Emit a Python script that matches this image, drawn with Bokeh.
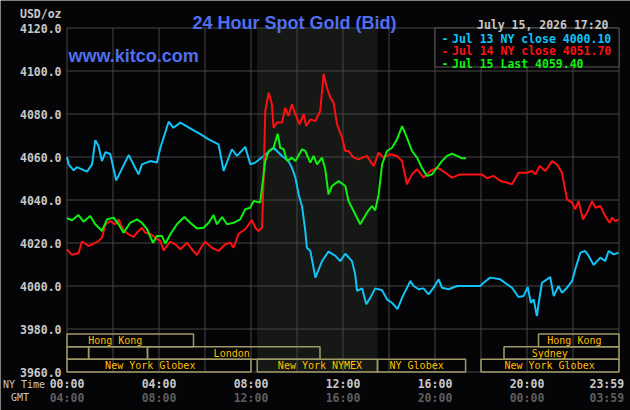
from bokeh.plotting import figure
from bokeh.models import Range1d, ColumnDataSource
from bokeh.core.properties import value
from bokeh.embed import file_html
from bokeh.resources import INLINE

# ---------------- data ----------------
jul13_hours = [0.00, 0.07, 0.29, 0.43, 0.87, 1.09, 1.23, 1.37, 1.52, 1.67, 1.88, 2.14, 2.68, 3.11, 3.26,
               3.62, 3.91, 4.06, 4.42, 4.63, 4.93, 5.43, 5.80, 6.16, 6.59, 6.81, 7.17, 7.39, 7.75, 7.97,
               8.19, 8.55, 8.98, 9.35, 9.63, 9.78, 9.93, 10.07, 10.22, 10.36, 10.43, 10.58, 10.80, 11.09,
               11.37, 11.67, 11.88, 12.10, 12.39, 12.53, 12.61, 12.83, 13.01, 13.19, 13.40, 13.70, 13.91,
               14.13, 14.37, 14.57, 14.93, 15.07, 15.29, 15.50, 15.72, 15.94, 16.16, 16.30, 16.59, 16.96,
               17.97, 18.11, 18.40, 18.84, 19.13, 19.35, 19.63, 19.85, 20.03, 20.17, 20.29, 20.43, 20.50,
               20.65, 20.87, 21.01, 21.16, 21.37, 21.52, 21.74, 21.96, 22.10, 22.32, 22.53, 22.68, 22.90,
               23.19, 23.40, 23.55, 23.77, 23.98]
jul13_price = [4060.0, 4056.6, 4053.8, 4055.3, 4053.2, 4056.6, 4067.8, 4065.1, 4058.1, 4062.3, 4061.4,
               4049.1, 4060.9, 4051.9, 4056.6, 4058.1, 4057.4, 4064.3, 4076.4, 4073.6, 4076.0, 4072.9,
               4070.6, 4068.2, 4065.9, 4053.5, 4063.6, 4060.5, 4064.7, 4056.6, 4057.4, 4060.5, 4064.3,
               4060.5, 4058.1, 4055.0, 4050.4, 4042.6, 4037.0, 4025.6, 4017.8, 4016.3, 4003.9, 4011.6,
               4016.0, 4014.0, 4011.6, 4015.0, 4011.6, 4005.4, 3997.7, 3998.9, 3991.5, 3994.6, 3998.9,
               3998.0, 3993.8, 3992.2, 3989.2, 3994.6, 4002.3, 4000.0, 3998.5, 3998.9, 3996.1, 3999.2,
               4003.1, 3999.2, 3998.5, 4000.0, 4000.0, 4001.5, 4003.9, 4003.1, 4000.8, 3999.2, 3994.9,
               3995.3, 3999.5, 3992.2, 3993.8, 3986.0, 3991.5, 4001.5, 4003.1, 4004.2, 3995.3, 4000.0,
               3996.9, 3999.2, 4002.3, 4007.8, 4015.5, 4016.3, 4014.0, 4009.8, 4013.2, 4011.6, 4016.3,
               4014.7, 4015.5]

jul14_hours = [0.00, 0.22, 0.50, 0.65, 0.94, 1.16, 1.37, 1.52, 1.67, 1.88, 2.10, 2.24, 2.46, 2.68, 2.90,
               3.04, 3.26, 3.40, 3.62, 3.84, 4.06, 4.20, 4.49, 4.71, 4.93, 5.22, 5.43, 5.65, 5.87, 6.01,
               6.30, 6.59, 6.88, 7.10, 7.24, 7.46, 7.75, 8.04, 8.19, 8.32, 8.48, 8.55, 8.62, 8.77, 8.91,
               8.98, 9.13, 9.35, 9.49, 9.63, 9.78, 9.93, 10.11, 10.29, 10.40, 10.58, 10.80, 11.01, 11.16,
               11.30, 11.45, 11.59, 11.74, 11.96, 12.10, 12.24, 12.46, 12.68, 13.04, 13.33, 13.55, 13.77,
               14.06, 14.35, 14.57, 14.78, 15.00, 15.22, 15.50, 15.80, 16.09, 16.23, 16.45, 16.74, 17.10,
               18.04, 18.26, 18.55, 18.84, 19.13, 19.35, 19.63, 20.00, 20.22, 20.36, 20.55, 20.80, 21.09,
               21.30, 21.52, 21.74, 21.96, 22.10, 22.24, 22.43, 22.61, 22.83, 22.97, 23.19, 23.40, 23.59,
               23.70, 23.84, 23.98]
jul14_price = [4017.0, 4014.5, 4015.2, 4020.7, 4018.6, 4019.7, 4020.9, 4022.5, 4028.7, 4030.2, 4028.7,
               4031.0, 4025.9, 4024.0, 4022.8, 4024.8, 4027.1, 4024.8, 4024.3, 4022.5, 4020.9, 4016.6,
               4020.6, 4019.4, 4017.1, 4020.1, 4017.1, 4014.4, 4018.6, 4020.6, 4017.8, 4016.3, 4019.4,
               4020.1, 4017.8, 4024.3, 4026.4, 4030.6, 4027.1, 4025.6, 4027.1, 4050.4, 4081.4, 4089.9,
               4084.5, 4073.6, 4076.0, 4076.0, 4082.9, 4079.1, 4084.5, 4079.9, 4075.2, 4079.9, 4074.4,
               4077.5, 4076.7, 4081.4, 4098.7, 4092.2, 4087.6, 4085.3, 4075.2, 4069.0, 4062.8, 4062.8,
               4059.7, 4058.9, 4060.5, 4055.8, 4062.0, 4059.7, 4061.3, 4060.5, 4058.1, 4047.3, 4051.9,
               4054.3, 4050.4, 4053.5, 4055.0, 4054.3, 4052.7, 4050.4, 4051.9, 4051.9, 4050.1, 4051.2,
               4048.8, 4048.1, 4047.3, 4052.7, 4052.7, 4053.5, 4051.9, 4055.8, 4053.5, 4058.1, 4056.6,
               4052.7, 4040.3, 4038.8, 4035.7, 4039.5, 4031.0, 4034.1, 4039.5, 4036.4, 4037.2, 4032.6,
               4029.4, 4031.8, 4030.2, 4031.0]

jul15_hours = [0.00, 0.22, 0.50, 0.72, 1.01, 1.23, 1.52, 1.74, 2.03, 2.24, 2.46, 2.75, 3.04, 3.26, 3.48,
               3.74, 3.91, 4.13, 4.27, 4.49, 4.78, 5.10, 5.36, 5.65, 5.94, 6.16, 6.37, 6.52, 6.74, 6.96,
               7.24, 7.53, 7.75, 7.97, 8.11, 8.40, 8.62, 8.77, 8.98, 9.16, 9.27, 9.42, 9.57, 9.78, 9.93,
               10.22, 10.36, 10.58, 10.72, 10.87, 11.09, 11.23, 11.37, 11.52, 11.81, 12.10, 12.24, 12.46,
               12.75, 13.04, 13.26, 13.40, 13.55, 13.70, 13.91, 14.13, 14.35, 14.57, 14.78, 15.00, 15.22,
               15.43, 15.65, 15.87, 16.09, 16.30, 16.52, 16.74, 16.96, 17.17, 17.35]
jul15_price = [4031.5, 4030.6, 4033.0, 4029.9, 4032.6, 4028.7, 4025.6, 4031.0, 4031.8, 4028.7, 4024.8,
               4029.4, 4031.0, 4029.4, 4026.4, 4020.1, 4023.3, 4023.3, 4019.7, 4024.0, 4028.7, 4032.1,
               4029.4, 4026.8, 4027.1, 4029.4, 4033.0, 4028.7, 4032.1, 4028.7, 4029.4, 4031.0, 4035.7,
               4036.4, 4039.5, 4038.8, 4058.1, 4062.8, 4064.3, 4070.8, 4064.3, 4063.6, 4058.1, 4059.7,
               4058.1, 4063.6, 4062.8, 4057.4, 4060.5, 4056.6, 4059.7, 4054.3, 4042.6, 4046.5, 4048.8,
               4046.5, 4039.5, 4034.9, 4028.7, 4034.1, 4037.2, 4035.2, 4042.6, 4056.6, 4062.8, 4064.3,
               4068.2, 4074.4, 4069.0, 4062.8, 4059.7, 4055.0, 4051.2, 4051.9, 4055.0, 4058.1, 4060.5,
               4061.5, 4060.5, 4059.4, 4059.4]

series_dates = ["Jul 13", "Jul 14", "Jul 15"]
series_kinds = ["NY close", "NY close", "Last"]
series_values = ["4000.10", "4051.70", "4059.40"]

# trading sessions (row 0 = top row)
session_row = [0, 0, 1, 1, 1, 1, 2, 2, 2, 2]
session_start = [0.0, 20.5, 0.0, 0.94, 3.5, 19.0, 0.0, 8.27, 13.5, 18.0]
session_end = [5.5, 24.0, 0.94, 3.5, 11.0, 24.0, 8.0, 13.5, 17.33, 24.0]
session_name = ["Hong Kong", "Hong Kong", "", "", "London", "Sydney",
                "New York Globex", "New York NYMEX", "NY Globex", "New York Globex"]
session_label_hour = [2.1, 22.06, 0.5, 2.2, 7.16, 20.99, 3.62, 11.0, 15.2, 20.98]
nymex_start, nymex_end = 8.27, 13.5

y_ticks = [3960, 3980, 4000, 4020, 4040, 4060, 4080, 4100, 4120]
ny_tick_hours = [0, 4, 8, 12, 16, 20, 23.47]
ny_tick_labels = ["00:00", "04:00", "08:00", "12:00", "16:00", "20:00", "23:59"]
gmt_tick_labels = ["04:00", "08:00", "12:00", "16:00", "20:00", "00:00", "03:59"]
grid_hours = [0, 2, 4, 6, 8, 10, 12, 14, 16, 18, 20, 22, 24]
chart_title = "24 Hour Spot Gold (Bid)"
site_name = "www.kitco.com"
stamp = "July 15, 2026 17:20"
unit_label = "USD/oz"

# ---------------- layout / style ----------------
W, H = 630, 410
X0_PX, PX_PER_H = 66.5, 23.0        # canvas x of 00:00, pixels per hour
Y0_PX, PX_PER_USD = 371.5, 2.15     # canvas y of 3960, pixels per USD
Y_BASE = 3960

def hx(px):   # canvas x -> hours
    return (px - X0_PX) / PX_PER_H

def vy(py):   # canvas y -> USD
    return Y_BASE + (Y0_PX - py) / PX_PER_USD

BG = "#050507"
GRID = "#464646"
LIGHT = "#C8C8C8"
DARK = "#5E5E5E"
BLUE = "#4F6FEF"
COLORS = ["#10C4F8", "#FF1010", "#10F010"]
SESS_TXT = "#FFBF00"
SESS_LINE = "#9E9A68"
MONO = "DejaVu Sans Mono"
SANS = "Liberation Sans"

p = figure(width=W, height=H, output_backend="svg", toolbar_location=None,
           x_range=Range1d(hx(0), hx(W)), y_range=Range1d(vy(H), vy(0)),
           x_axis_type=None, y_axis_type=None, title=None, min_border=0,
           background_fill_color=BG, border_fill_color=BG)
p.outline_line_color = None

x_lo, x_hi = grid_hours[0], grid_hours[-1]
y_lo, y_hi = y_ticks[0], y_ticks[-1]

# NYMEX shading
p.quad(left=[nymex_start], right=[nymex_end], bottom=[y_lo], top=[y_hi],
       fill_color="#151815", line_color=None)

# grid
p.segment(x0=grid_hours, x1=grid_hours, y0=[y_lo] * len(grid_hours), y1=[y_hi] * len(grid_hours),
          line_color=GRID, line_width=1)
p.segment(x0=[x_lo] * len(y_ticks), x1=[x_hi] * len(y_ticks), y0=y_ticks, y1=y_ticks,
          line_color=GRID, line_width=1)

def txt(x, y, text, color, size, align="left", baseline="middle", font=MONO, style="bold"):
    p.text(x=x, y=y, text=text, text_color=color, text_font=value(font),
           text_font_size=size, text_font_style=style, text_align=align,
           text_baseline=baseline)

# y tick labels + unit
txt([hx(61)] * len(y_ticks), y_ticks, [f"{t:.1f}" for t in y_ticks], LIGHT, "11.5px", align="right")
txt([hx(61)], [vy(13)], [unit_label], LIGHT, "11.5px", align="right")

# x tick labels (NY time + GMT)
txt(ny_tick_hours, [vy(383)] * len(ny_tick_hours), ny_tick_labels, LIGHT, "11.5px", align="center")
txt(ny_tick_hours, [vy(397)] * len(ny_tick_hours), gmt_tick_labels, DARK, "11.5px", align="center")
txt([hx(2.5), hx(10.5)], [vy(383.5), vy(397)], ["NY Time", "GMT"], LIGHT, "10px", style="normal")

# session boxes
row_top = vy(333.5)
row_h = (vy(333.5) - vy(371.5)) / 3
src = ColumnDataSource(dict(
    left=session_start, right=session_end,
    top=[row_top - r * row_h for r in session_row],
    bottom=[row_top - (r + 1) * row_h for r in session_row],
    lx=session_label_hour,
    ly=[row_top - (r + 0.5) * row_h for r in session_row],
    name=session_name))
p.quad(left="left", right="right", top="top", bottom="bottom", source=src,
       fill_color=None, line_color=SESS_LINE, line_width=1.5)
p.text(x="lx", y="ly", text="name", source=src, text_color=SESS_TXT,
       text_font=value(MONO), text_font_size="10px", text_align="center",
       text_baseline="middle")

# price lines
for hrs, px, c in ((jul13_hours, jul13_price, COLORS[0]),
                   (jul14_hours, jul14_price, COLORS[1]),
                   (jul15_hours, jul15_price, COLORS[2])):
    p.line(hrs, px, line_color=c, line_width=2)

# legend box + entries
p.quad(left=[16], right=[24], top=[y_hi], bottom=[vy(66.5)],
       fill_color=BG, line_color="#5A5A5A", line_width=1)
for i, (d, k, v) in enumerate(zip(series_dates, series_kinds, series_values)):
    yb = vy(38 + i * 12.5)
    txt([hx(441)], [yb], ["-"], COLORS[i], "11.5px", baseline="alphabetic")
    txt([hx(451.5)], [yb], [f"{d} {k} {v}"], COLORS[i], "11.5px", baseline="alphabetic")

# titles
txt([hx(294)], [vy(22)], [chart_title], BLUE, "18px", align="center",
    baseline="alphabetic", font=SANS)
txt([hx(68)], [vy(55)], [site_name], BLUE, "18px", baseline="alphabetic", font=SANS)
txt([hx(608)], [vy(24)], [stamp], LIGHT, "11.5px", align="right", baseline="alphabetic")

open("out.html", "w").write(file_html(p, INLINE))
